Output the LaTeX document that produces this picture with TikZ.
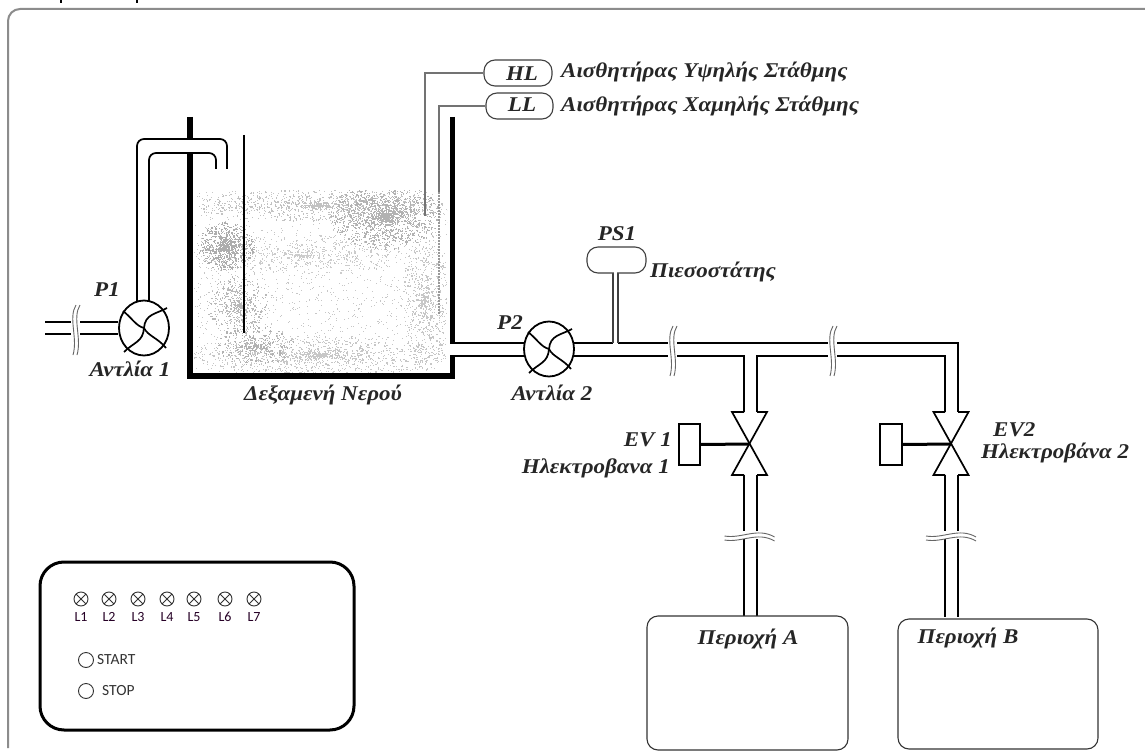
\documentclass[tikz,border=0pt]{standalone}
\usepackage{fontspec}
\setmainfont{Liberation Serif}[FakeStretch=1.095]
\newfontfamily\panelfont{Carlito}
\usetikzlibrary{shapes.geometric,calc}
\tikzset{
  pipe/.style={draw=black,line width=1.7pt},
  wall/.style={draw=black,line width=5.5pt},
  wire/.style={draw=black!55,line width=1.4pt},
  lbl/.style={font=\bfseries\itshape\fontsize{21}{21}\selectfont,text=black!85,inner sep=0pt},
  capsule/.style={draw=black!75,line width=1.1pt,rounded corners=11pt,inner sep=0pt,fill=white},
  pumpbody/.style={draw=black,line width=1.8pt,ellipse,minimum width=50pt,minimum height=55pt,inner sep=0pt,fill=white},
  breakmark/.style={draw=black!60,line width=.9pt},
  lamp/.style={draw=black!80,line width=.9pt,circle,minimum size=14pt,inner sep=0pt},
  lamplbl/.style={font=\panelfont\fontsize{14}{14}\selectfont,text=black!70!violet,inner sep=0pt},
  ctl/.style={font=\panelfont\fontsize{15.5}{15.5}\selectfont,text=black!80,inner sep=0pt,anchor=west},
  zone/.style={draw=black!80,line width=1.1pt,rounded corners=11pt,fill=white},
  actuator/.style={draw=black,line width=1.8pt,fill=white,inner sep=0pt}
}
\newcommand{\impeller}[1]{%
  \draw[line width=1.7pt] ($(#1.center)+(-21,-17)$) .. controls ($(#1.center)+(-12,-10)$) and ($(#1.center)+(-8,-2)$) .. (#1.center);
  \draw[line width=1.7pt] (#1.center) .. controls ($(#1.center)+(1,-14)$) and ($(#1.center)+(12,-14)$) .. ($(#1.center)+(23,-20)$);
  \draw[line width=1.7pt] (#1.center) .. controls ($(#1.center)+(4,8)$) and ($(#1.center)+(14,10)$) .. ($(#1.center)+(22,20)$);
  \draw[line width=1.7pt] (#1.center) .. controls ($(#1.center)+(-1,14)$) and ($(#1.center)+(-10,14)$) .. ($(#1.center)+(-20,24)$);
}
\newcommand{\wavebreakV}[1]{%
  \foreach \dx in {-2,2}{
    \draw[breakmark] ($(#1)+(\dx+3,-25)$) .. controls ($(#1)+(\dx-5,-12)$) and ($(#1)+(\dx+5,8)$) .. ($(#1)+(\dx-0,25)$);
  }
}
\newcommand{\wavebreakH}[1]{%
  \foreach \dy in {-2,2}{
    \draw[breakmark] ($(#1)+(-25,\dy+3)$) .. controls ($(#1)+(-8,\dy+6)$) and ($(#1)+(8,\dy-6)$) .. ($(#1)+(25,\dy+4)$);
  }
}
\begin{document}
\begin{tikzpicture}[x=1pt,y=-1pt]
\useasboundingbox (0,0) rectangle (1145,751);
\fill[white] (0,0) rectangle (1145,751);
% frame
\draw[draw=black!45,line width=2pt,rounded corners=12pt] (8,748) -- (8,9) -- (1160,9);
\fill[black] (59.5,0) rectangle (61.5,3);
\fill[black] (136,0) rectangle (138,3);
% water
\pgfmathsetseed{4242}
\begin{scope}
\clip (194,191) rectangle (447,372);
\foreach \i in {1,...,1500}{
  \pgfmathsetmacro{\xx}{194+253*rnd}
  \pgfmathsetmacro{\yy}{191+181*rnd}
  \fill[black!22] (\xx,\yy) rectangle +(1,1);
}
\foreach \cx/\cy/\rx/\ry/\n/\gr in {320/205/127/16/900/24,320/355/127/20/1000/22,300/255/105/20/500/20,425/300/22/70/600/22,
    385/215/55/34/1500/30,226/246/28/24/800/32,238/305/32/30/450/28,255/345/40/20/350/30}{
  \foreach \i in {1,...,\n}{
    \pgfmathsetmacro{\aa}{360*rnd}
    \pgfmathsetmacro{\rr}{rnd}
    \pgfmathsetmacro{\xx}{\cx+\rx*\rr*cos(\aa)}
    \pgfmathsetmacro{\yy}{\cy+\ry*\rr*sin(\aa)}
    \fill[black!\gr] (\xx,\yy) rectangle +(1.2,1.2);
  }
}
\end{scope}
% tank
\coordinate (wallLtop) at (190,117);
\coordinate (wallLgap) at (190,138);
\coordinate (wallLres) at (190,153);
\coordinate (tankBL) at (190,376);
\coordinate (tankBR) at (452.5,376);
\coordinate (tankOutLow) at (452.5,356);
\coordinate (wallRtop) at (452.5,117);
\coordinate (wallRend) at (452.5,343);
\draw[wall,line cap=butt] (wallLtop) -- (wallLgap);
\draw[wall,line join=miter] (wallLres) -- (tankBL) -- (tankBR) -- (tankOutLow);
\draw[wall] (wallRtop) -- (wallRend);
\draw[draw=black,line width=2pt] (244,135) -- (244,333);
% P1
\node[pumpbody] (p1) at (144,328) {};
\impeller{p1}
\coordinate (p1inA) at (45,322);\coordinate (p1inB) at (45,334);
\draw[pipe] (p1inA) -- (118,322);
\draw[pipe] (p1inB) -- (118,334);
\fill[white] (71,315) rectangle (80,342);
\wavebreakV{75,330}
\draw[pipe,rounded corners=7pt] (137,301) -- (137,139) -- (227,139) -- (227,169);
\draw[pipe,rounded corners=7pt] (149,301) -- (149,153) -- (216,153) -- (216,169);
% P2
\node[pumpbody] (p2) at (549,349) {};
\impeller{p2}
\draw[pipe] (wallRend) ++(-2.5,0) -- (525,343);
\draw[pipe] (tankOutLow) ++(-2.5,0) -- (525,356);
\draw[pipe] (574,343) -- (613,343);
\draw[pipe] (574,356) -- (744,356) -- (744,412);
\draw[pipe] (618,343) -- (958,343) -- (958,412);
\draw[pipe] (757,412) -- (757,356) -- (945,356) -- (945,412);
\foreach \b in {672,832}{
  \fill[white] (\b-4,338) rectangle (\b+5,361);
  \wavebreakV{\b,351}
}
% PS1
\draw[wire,draw=black!75] (613,343) -- (613,272);
\draw[wire,draw=black!75] (618,343) -- (618,272);
\node[capsule,minimum width=59pt,minimum height=26pt] (ps1) at (616.5,260) {};
\fill[white] (614,271) rectangle (617,276);
% sensors
\node[capsule,minimum width=68pt,minimum height=26pt] (hl) at (518,73) {};
\node[capsule,minimum width=67pt,minimum height=26pt] (ll) at (519.5,106) {};
\draw[wire] (hl.west) -- (425,73) -- (425,216);
\draw[wire] (ll.west) -- (439,106) -- (439,192);
\draw[wire,dash pattern=on 2pt off 1pt,draw=black!40] (439,192) -- (439,315);
\node[lbl] at (522,74) {HL};
\node[lbl] at (522,105) {LL};
\node[lbl,anchor=west] at (561,72) {Αισθητήρας Υψηλής Στάθμης};
\node[lbl,anchor=west] at (561,106) {Αισθητήρας Χαμηλής Στάθμης};
\node[lbl] at (617,234) {PS1};
\node[lbl,anchor=west] at (650,272) {Πιεσοστάτης};
% valves
\foreach \nm/\cx/\l/\r/\hw in {v1/749.5/744/757/17.5,v2/951/945/958/17.5}{
  \coordinate (\nm) at (\cx,444);
  \draw[pipe,line join=miter] (\l,412) -- (\cx-\hw,412) -- (\cx+\hw,475) -- (\r,475);
  \draw[pipe,line join=miter] (\r,412) -- (\cx+\hw,412) -- (\cx-\hw,475) -- (\l,475);
  \draw[pipe] (\l,475) -- (\l,617);
  \draw[pipe] (\r,475) -- (\r,617);
  \fill[white] (\l-4,531) rectangle (\r+4,539);
  \wavebreakH{\cx,535}
}
\node[actuator,minimum width=21pt,minimum height=41pt] (a1) at (689.5,444.5) {};
\node[actuator,minimum width=22pt,minimum height=41pt] (a2) at (891,444.5) {};
\draw[line width=3pt] (a1.east) -- (v1);
\draw[line width=3pt] (a2.east) -- (v2);
% labels
\node[lbl] at (107,290) {P1};
\node[lbl] at (130,369) {Αντλία 1};
\node[lbl] at (323,395) {Δεξαμενή Νερού};
\node[lbl] at (510,323) {P2};
\node[lbl] at (552,393) {Αντλία 2};
\node[lbl,anchor=east] at (672,440) {EV 1};
\node[lbl,anchor=east] at (670,468) {Ηλεκτροβανα 1};
\node[lbl,anchor=west] at (993,430) {EV2};
\node[lbl,anchor=west] at (981,453) {Ηλεκτροβάνα 2};
% zones
\path[zone] (647,616) rectangle (848,750);
\path[zone] (898,619) rectangle (1098,749);
\node[lbl] at (748,639) {Περιοχή Α};
\node[lbl] at (968,638) {Περιοχή Β};
% panel
\draw[draw=black,line width=3pt,rounded corners=24pt] (40,562) rectangle (354,730);
\foreach \i/\x in {1/81,2/109,3/138,4/167,5/194,6/225,7/254}{
  \node[lamp] (lamp\i) at (\x,599) {};
  \draw[draw=black!80,line width=.8pt] (\x-5,594) -- (\x+5,604) (\x-5,604) -- (\x+5,594);
  \node[lamplbl] at (\x,617) {L\i};
}
\node[lamp,minimum size=15pt] (start) at (86,660) {};
\node[ctl] at (97,660) {START};
\node[lamp,minimum size=15pt] (stop) at (86,691) {};
\node[ctl] at (102,691) {STOP};
\end{tikzpicture}
\end{document}
